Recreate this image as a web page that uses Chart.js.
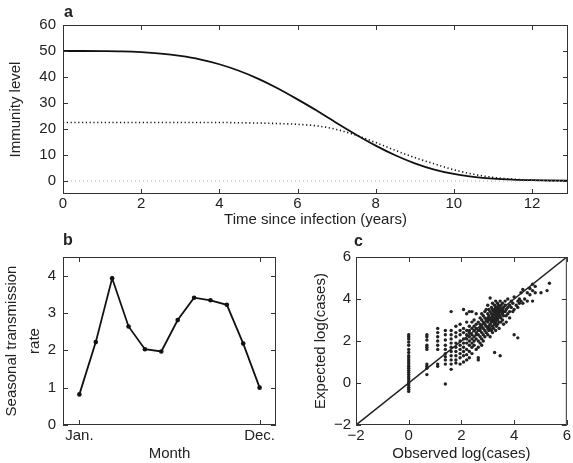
<!DOCTYPE html>
<html>
<head>
<meta charset="utf-8">
<script src="https://cdn.jsdelivr.net/npm/chart.js@4.4.0/dist/chart.umd.min.js"></script>
<style>
  body { margin: 0; background: #fff; width: 573px; height: 463px; position: relative; overflow: hidden; font-family: "Liberation Sans", Arial, sans-serif; }
  .panel { position: absolute; }
  .tag { position: absolute; font-weight: bold; font-size: 16px; color: #222; line-height: 16px; }
</style>
</head>
<body>
<div class="panel" style="left:0;top:0;width:573px;height:232px"><canvas id="chartA"></canvas></div>
<div class="panel" style="left:0;top:225px;width:290px;height:238px"><canvas id="chartB"></canvas></div>
<div class="panel" style="left:290px;top:225px;width:283px;height:238px"><canvas id="chartC"></canvas></div>
<div class="tag" style="left:64px;top:4px">a</div>
<div class="tag" style="left:63px;top:232px">b</div>
<div class="tag" style="left:354px;top:233px">c</div>
<script>
// panel a: immunity against time since infection
var years = [0, 0.5, 1, 1.5, 2, 2.5, 3, 3.5, 4, 4.5, 5, 5.5, 6, 6.5, 7, 7.5, 8, 8.5, 9, 9.5, 10, 10.5, 11, 11.5, 12, 12.5, 13];
var immunitySolid = [50, 50, 49.95, 49.85, 49.55, 49, 48.1, 46.8, 44.9, 42.4, 39.3, 35.6, 31.4, 27, 22.3, 17.8, 13.6, 9.9, 6.8, 4.4, 2.7, 1.6, 0.9, 0.5, 0.3, 0.2, 0.1];
var immunityDotted = [22.5, 22.5, 22.5, 22.5, 22.5, 22.5, 22.5, 22.5, 22.5, 22.4, 22.3, 22.1, 21.8, 21.2, 19.8, 17.6, 14.8, 11.8, 9.0, 6.6, 4.3, 2.6, 1.4, 0.7, 0.3, 0.1, 0];
var baseline = [0, 0];
var aXTicks = [0, 2, 4, 6, 8, 10, 12];
var aYTicks = [0, 10, 20, 30, 40, 50, 60];

// panel b: seasonal transmission rate by month
var months = [1, 2, 3, 4, 5, 6, 7, 8, 9, 10, 11, 12];
var transmission = [0.82, 2.22, 3.93, 2.64, 2.03, 1.97, 2.81, 3.41, 3.34, 3.22, 2.18, 1.0];
var monthTicks = [1, 12];
var monthLabels = ['Jan.', 'Dec.'];
var bYTicks = [0, 1, 2, 3, 4];

// panel c: observed vs expected log(cases)
var casePoints = [
  [0, 2.3], [0, 2.2], [0, 2.1], [0, 1.95], [0, 1.8], [0, 1.6], [0, 1.45], [0, 1.3], [0, 1.2], [0, 1.1], [0, 1.0], [0, 0.9], [0, 0.8],
  [0, 0.7], [0, 0.6], [0, 0.5], [0, 0.4], [0, 0.3], [0, 0.2], [0, 0.1], [0, 0], [0, -0.1], [0, -0.2], [0, -0.3], [0, -0.4],
  [0.69, 2.3], [0.69, 2.2], [0.69, 2.05], [0.69, 1.8], [0.69, 1.7], [0.69, 1.6], [0.69, 0.9], [0.69, 0.8], [0.69, 0.7], [0.69, 0.4],
  [1.1, 2.6], [1.1, 2.4], [1.1, 2.2], [1.1, 2.0], [1.1, 1.8], [1.1, 1.6], [1.1, 0.9], [1.1, 0.8],
  [1.39, 2.5], [1.39, 2.3], [1.39, 2.05], [1.39, 1.8], [1.39, 1.6], [1.39, 1.4], [1.39, 1.25], [1.39, 1.1], [1.39, 0.9], [1.39, -0.05],
  [1.61, 3.4], [1.61, 2.5], [1.61, 2.3], [1.61, 2.1], [1.61, 1.9], [1.61, 1.7], [1.61, 1.5], [1.61, 1.3], [1.61, 1.1], [1.61, 0.9], [1.61, 0.65],
  [1.79, 2.7], [1.79, 2.4], [1.79, 2.2], [1.79, 1.9], [1.79, 1.7], [1.79, 1.5], [1.79, 1.3], [1.79, 1.1], [1.79, 0.95],
  [1.95, 2.8], [1.95, 2.5], [1.95, 2.3], [1.95, 2.0], [1.95, 1.8], [1.95, 1.6], [1.95, 1.4], [1.95, 1.2], [1.95, 0.9],
  [2.08, 3.5], [2.08, 2.6], [2.08, 2.4], [2.08, 2.1], [2.08, 1.9], [2.08, 1.7], [2.08, 1.5], [2.08, 1.3], [2.08, 1.0],
  [2.2, 3.3], [2.2, 2.9], [2.2, 2.5], [2.2, 2.3], [2.2, 2.1], [2.2, 1.9], [2.2, 1.6], [2.2, 1.35], [2.2, 1.1],
  [2.3, 3.4], [2.3, 2.7], [2.3, 2.5], [2.3, 2.4], [2.3, 2.2], [2.3, 2.0], [2.3, 1.8], [2.3, 1.5], [2.3, 1.2],
  [2.4, 3.4], [2.4, 2.9], [2.4, 2.6], [2.4, 2.3], [2.4, 2.1], [2.4, 1.9], [2.4, 1.7], [2.4, 1.4],
  [2.48, 3.0], [2.48, 2.7], [2.48, 2.5], [2.48, 2.2], [2.48, 2.0], [2.48, 1.8],
  [2.56, 3.3], [2.56, 2.8], [2.56, 2.6], [2.56, 2.4], [2.56, 2.3], [2.56, 2.1], [2.56, 1.6],
  [2.64, 2.9], [2.64, 2.5], [2.64, 2.3], [2.64, 2.0], [2.64, 1.7], [2.64, 1.2], [2.64, 1.1],
  [2.71, 3.1], [2.71, 2.8], [2.71, 2.6], [2.71, 2.5], [2.71, 2.2], [2.71, 1.9],
  [2.77, 3.3], [2.77, 3.0], [2.77, 2.7], [2.77, 2.4], [2.77, 2.1], [2.77, 1.8],
  [2.83, 3.2], [2.83, 2.9], [2.83, 2.6], [2.83, 2.3], [2.83, 2.0],
  [2.89, 3.4], [2.89, 3.1], [2.89, 2.8], [2.89, 2.5], [2.89, 2.2],
  [2.94, 3.5], [2.94, 3.0], [2.94, 2.7], [2.94, 2.4],
  [3.0, 3.7], [3.0, 3.3], [3.0, 3.1], [3.0, 2.9], [3.0, 2.6], [3.0, 2.3],
  [3.04, 3.5], [3.04, 3.2], [3.04, 3.0], [3.04, 2.7], [3.04, 2.5],
  [3.09, 4.05], [3.09, 3.4], [3.09, 3.1], [3.09, 2.8], [3.09, 2.6], [3.09, 2.2],
  [3.14, 3.6], [3.14, 3.3], [3.14, 3.0], [3.14, 2.9], [3.14, 2.5],
  [3.18, 3.8], [3.18, 3.5], [3.18, 3.2], [3.18, 3.0], [3.18, 2.7], [3.18, 2.4],
  [3.22, 3.4], [3.22, 3.1], [3.22, 2.9], [3.22, 2.6],
  [3.26, 3.7], [3.26, 3.5], [3.26, 3.3], [3.26, 3.0], [3.26, 2.8], [3.26, 1.45],
  [3.3, 3.9], [3.3, 3.6], [3.3, 3.4], [3.3, 3.2], [3.3, 2.9], [3.3, 2.5],
  [3.33, 3.5], [3.33, 3.3], [3.33, 3.1], [3.33, 2.7],
  [3.37, 3.8], [3.37, 3.6], [3.37, 3.4], [3.37, 3.2], [3.37, 3.0], [3.37, 2.8],
  [3.4, 3.7], [3.4, 3.3], [3.4, 3.1],
  [3.43, 3.5], [3.43, 3.3], [3.43, 2.9], [3.43, 2.6],
  [3.47, 3.9], [3.47, 3.6], [3.47, 3.4], [3.47, 3.2], [3.47, 1.3],
  [3.5, 3.7], [3.5, 3.4], [3.5, 3.1], [3.5, 2.9],
  [3.56, 3.8], [3.56, 3.5], [3.56, 3.3], [3.56, 3.0],
  [3.6, 3.6], [3.6, 3.4], [3.6, 3.2], [3.6, 2.8],
  [3.66, 3.9], [3.66, 3.7], [3.66, 3.4],
  [3.7, 3.5], [3.7, 3.2], [3.7, 2.9],
  [3.76, 4.0], [3.76, 3.6], [3.76, 3.3],
  [3.83, 3.7], [3.83, 3.4], [3.83, 3.1],
  [3.89, 3.9], [3.89, 3.6],
  [3.95, 3.8], [3.95, 3.4],
  [4.0, 4.1], [4.0, 3.5], [4.0, 2.3],
  [4.08, 3.7],
  [4.14, 3.9], [4.14, 3.6], [4.14, 2.15],
  [4.2, 4.0], [4.2, 3.8],
  [4.26, 4.3], [4.26, 3.9],
  [4.33, 4.45], [4.33, 3.8],
  [4.4, 4.0],
  [4.5, 4.3], [4.5, 3.9],
  [4.6, 4.5], [4.6, 4.2],
  [4.7, 4.7], [4.7, 4.4], [4.7, 3.9],
  [4.8, 4.6], [4.8, 4.3],
  [5.02, 4.3], [5.25, 4.4], [5.34, 4.75]
];
var identityLine = [-2, 6];
var cTicks = [-2, 0, 2, 4, 6];

Chart.defaults.font.family = '"Liberation Sans", Arial, sans-serif';
Chart.defaults.font.size = 15;
Chart.defaults.color = '#222';

function pairs(xs, ys) {
  return xs.map(function (x, i) { return { x: x, y: ys[i] }; });
}
function fixTicks(list) {
  return function (scale) { scale.ticks = list.map(function (v) { return { value: v }; }); };
}
function minus(v) { return v < 0 ? '\u2212' + Math.abs(v) : '' + v; }

// box round the plot area with inward ticks on all four sides
var framePlugin = {
  id: 'frame',
  afterDraw: function (chart) {
    var a = chart.chartArea, c = chart.ctx;
    var xs = chart.scales.x, ys = chart.scales.y;
    c.save();
    c.strokeStyle = '#333';
    c.lineWidth = 1;
    c.strokeRect(a.left + 0.5, a.top + 0.5, a.right - a.left - 1, a.bottom - a.top - 1);
    c.beginPath();
    xs.ticks.forEach(function (t) {
      var p = Math.round(xs.getPixelForValue(t.value)) + 0.5;
      c.moveTo(p, a.bottom); c.lineTo(p, a.bottom - 5);
      c.moveTo(p, a.top); c.lineTo(p, a.top + 5);
    });
    ys.ticks.forEach(function (t) {
      var p = Math.round(ys.getPixelForValue(t.value)) + 0.5;
      c.moveTo(a.left, p); c.lineTo(a.left + 5, p);
      c.moveTo(a.right, p); c.lineTo(a.right - 5, p);
    });
    c.stroke();
    c.restore();
  }
};

function axis(opts) {
  return {
    type: 'linear',
    min: opts.min,
    max: opts.max,
    grid: { display: false, drawTicks: false },
    border: { display: false },
    afterBuildTicks: fixTicks(opts.ticks),
    afterFit: function (s) { if (opts.width) s.width = opts.width; if (opts.height) s.height = opts.height; },
    ticks: { padding: opts.pad, autoSkip: false, maxRotation: 0, callback: opts.cb || minus, color: '#222' },
    title: { display: true, text: opts.title, padding: opts.titlePad, font: opts.titleFont || { size: 15 }, color: '#222' }
  };
}

var baseOptions = function (padding, scales) {
  return {
    responsive: true,
    maintainAspectRatio: false,
    animation: false,
    layout: { padding: padding },
    plugins: { legend: { display: false }, tooltip: { enabled: false } },
    scales: scales
  };
};

new Chart(document.getElementById('chartA'), {
  type: 'line',
  data: {
    datasets: [
      { data: pairs([0, 13], baseline), borderColor: '#aaa', borderWidth: 1, borderDash: [1, 3], pointRadius: 0 },
      { data: pairs(years, immunityDotted), borderColor: '#111', borderWidth: 1.6, borderDash: [1.2, 2.6], pointRadius: 0, cubicInterpolationMode: 'monotone' },
      { data: pairs(years, immunitySolid), borderColor: '#111', borderWidth: 1.8, pointRadius: 0, cubicInterpolationMode: 'monotone' }
    ]
  },
  options: baseOptions({ left: 0, right: 5, top: 25, bottom: 0 }, {
    x: axis({ min: 0, max: 12.92, ticks: aXTicks, height: 38, pad: 1, title: 'Time since infection (years)', titlePad: { top: 0, bottom: 3 } }),
    y: axis({ min: -5, max: 60, ticks: aYTicks, width: 63, pad: 7, title: 'Immunity level', titlePad: { top: 7, bottom: 0 } })
  }),
  plugins: [framePlugin]
});

new Chart(document.getElementById('chartB'), {
  type: 'line',
  data: {
    datasets: [
      { data: pairs(months, transmission), borderColor: '#111', borderWidth: 1.8, pointRadius: 2.3, pointBackgroundColor: '#111', pointBorderWidth: 0, tension: 0 }
    ]
  },
  options: baseOptions({ left: 0, right: 14, top: 32, bottom: 0 }, {
    x: axis({ min: 0, max: 13, ticks: monthTicks, height: 38, pad: 2, title: 'Month', titlePad: { top: 0, bottom: 0 },
      cb: function (v) { var i = monthTicks.indexOf(v); return i < 0 ? '' : monthLabels[i]; } }),
    y: axis({ min: 0, max: 4.5, ticks: bYTicks, width: 63, pad: 7, title: ['Seasonal transmission', 'rate'], titlePad: { top: 0, bottom: 0 },
      titleFont: { size: 15, lineHeight: 1.55 } })
  }),
  plugins: [framePlugin]
});

new Chart(document.getElementById('chartC'), {
  type: 'scatter',
  data: {
    datasets: [
      { data: casePoints.map(function (p) { return { x: p[0], y: p[1] }; }), pointRadius: 1.7, pointBackgroundColor: '#222', pointBorderWidth: 0 },
      { type: 'line', data: pairs(identityLine, identityLine), borderColor: '#222', borderWidth: 1.5, pointRadius: 0 }
    ]
  },
  options: baseOptions({ left: 0, right: 5, top: 32, bottom: 0 }, {
    x: axis({ min: -2, max: 6, ticks: cTicks, height: 38, pad: 2, title: 'Observed log(cases)', titlePad: { top: 0, bottom: 0 } }),
    y: axis({ min: -2, max: 6, ticks: cTicks, width: 66, pad: 5, title: 'Expected log(cases)', titlePad: { top: 22, bottom: 0 } })
  }),
  plugins: [framePlugin]
});
</script>
</body>
</html>
